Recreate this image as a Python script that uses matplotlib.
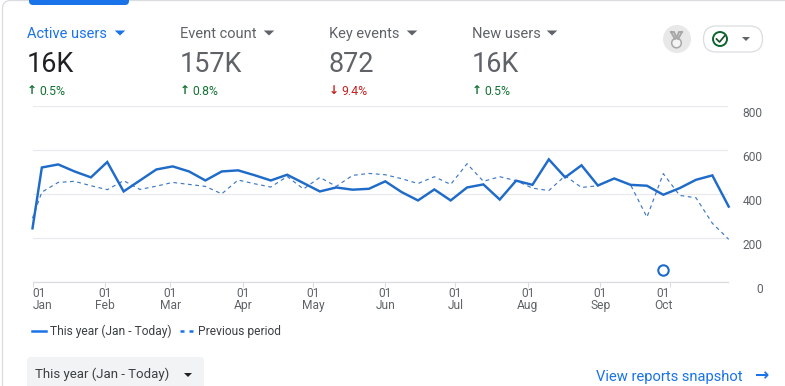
import matplotlib
matplotlib.use("Agg")
import matplotlib.pyplot as plt
from matplotlib.lines import Line2D
from matplotlib.patches import Circle, FancyBboxPatch, Polygon
from matplotlib.transforms import ScaledTranslation

plt.rcParams['font.family'] = ['Roboto', 'DejaVu Sans']

W, H = 785, 386

# weekly points, x is days since 01 Jan
days = [0, 4, 11, 18, 25, 32, 39, 46, 53, 60, 67, 74, 81, 88, 95, 102, 109, 116, 123, 130, 137, 144,
        151, 158, 165, 172, 179, 186, 193, 200, 207, 214, 221, 228, 235, 242, 249, 256, 263, 270,
        277, 284, 291, 298]
this_year = [243, 520, 534, 502, 475, 545, 411, 461, 511, 525, 502, 461, 502, 507, 485, 461, 487, 449,
             411, 429, 419, 423, 457, 408, 370, 420, 370, 429, 443, 374, 460, 441, 557, 475, 530, 438,
             470, 441, 437, 396, 426, 464, 484, 342]
previous = [289, 408, 452, 457, 437, 419, 460, 420, 435, 452, 443, 434, 400, 463, 446, 431, 479, 422,
            475, 434, 484, 493, 487, 469, 447, 478, 443, 537, 457, 478, 460, 426, 415, 482, 429, 437,
            470, 441, 294, 492, 393, 382, 266, 193]

month_days = [0, 31, 59, 90, 120, 151, 181, 212, 243, 273]
month_labels = ['Jan', 'Feb', 'Mar', 'Apr', 'May', 'Jun', 'Jul', 'Aug', 'Sep', 'Oct']
y_ticks = [0, 200, 400, 600, 800]

note_day = [270]
note_value = [53]

metric_names = ['Active users', 'Event count', 'Key events', 'New users']
metric_values = ['16K', '157K', '872', '16K']
metric_changes = ['0.5%', '0.8%', '9.4%', '0.5%']
metric_up = [True, True, False, True]
metric_x = [27, 180, 329, 472]
metric_tri = [120, 269, 412, 552]

BLUE = '#1a73e8'
LINE = '#1f6bc9'
GREY = '#5f6368'
INK = '#202124'
GREEN = '#137333'
RED = '#c5221f'


def px(size):
    return size * 72 / 100


fig = plt.figure(figsize=(W / 100, H / 100), dpi=100, facecolor='white')

# page furniture, drawn in pixel coordinates
ui = fig.add_axes([0, 0, 1, 1])
ui.set_xlim(0, W)
ui.set_ylim(H, 0)
ui.axis('off')


def triangle(x, y, w, h, color):
    ui.add_patch(Polygon([(x - w / 2, y - h / 2), (x + w / 2, y - h / 2), (x, y + h / 2)], color=color, lw=0))


ui.add_patch(FancyBboxPatch((2.5, 0.5), 900, 500, boxstyle='round,pad=0,rounding_size=8', fc='white',
                            ec='#dadce0', lw=0.9))
ui.add_patch(FancyBboxPatch((29, -6), 100, 11, boxstyle='round,pad=0,rounding_size=4', fc=BLUE, ec='none'))

for i, name in enumerate(metric_names):
    x = metric_x[i]
    active = i == 0
    ui.text(x, 34, name, color=BLUE if active else GREY, fontsize=px(14.6), va='center', ha='left')
    triangle(metric_tri[i], 33, 10.5, 5, BLUE if active else GREY)
    ui.text(x, 64, metric_values[i], color=INK if active else GREY, fontsize=px(27), va='center', ha='left')
    col = GREEN if metric_up[i] else RED
    ui.text(x + 5, 91, '↑' if metric_up[i] else '↓', color=col, fontsize=px(12), fontweight='bold',
            family='DejaVu Sans', va='center', ha='center')
    ui.text(x + 12, 91.5, metric_changes[i], color=col, fontsize=px(12.3), va='center', ha='left')

# medal badge
ui.add_patch(Circle((677, 39), 14, fc='#e8e8e8', ec='none'))
ui.add_patch(Circle((676.5, 43), 4.8, fc='#f4f4f4', ec='#a8a8a8', lw=1.1))
ui.plot([671, 674, 676.5, 679, 682], [32, 32, 38, 32, 32], color='#a8a8a8', lw=1.4)
ui.plot([671, 675], [32, 39], color='#a8a8a8', lw=1.4)
ui.plot([682, 678], [32, 39], color='#a8a8a8', lw=1.4)
# status button
ui.add_patch(FancyBboxPatch((703.5, 26), 59, 26, boxstyle='round,pad=0,rounding_size=13', fc='white',
                            ec='#dadce0', lw=0.9))
ui.add_patch(Circle((720, 39), 7, fc='none', ec='#0d652d', lw=1.4))
ui.plot([716.5, 719.5, 724.5], [39, 42, 36], color='#174d2c', lw=1.2)
triangle(746, 39, 8, 4, GREY)

ui.add_patch(FancyBboxPatch((27, 357), 177, 40, boxstyle='round,pad=0,rounding_size=4', fc='#f1f3f4', ec='none'))
ui.text(35, 374.5, 'This year (Jan - Today)', color='#3c4043', fontsize=px(13.3), va='center', ha='left')
triangle(188, 375, 8, 4, INK)
ui.text(596, 376.5, 'View reports snapshot', color=BLUE, fontsize=px(14.8), va='center', ha='left')
ui.text(762, 375, '→', color=BLUE, fontsize=px(17), fontweight='bold', family='DejaVu Sans',
        va='center', ha='center')

# the chart itself
ax = fig.add_axes([32.5 / W, 1 - 281.7 / H, (728 - 32.5) / W, (281.7 - 106) / H])
ax.patch.set_alpha(0)
ax.set_xlim(0, 297.7)
ax.set_ylim(0, 800)
for side in ['top', 'left', 'right']:
    ax.spines[side].set_visible(False)
ax.spines['bottom'].set_color('#dadce0')
ax.spines['bottom'].set_linewidth(0.9)

ax.plot(days, previous, color='#3f79c4', lw=0.85, dashes=(3.2, 3), zorder=3, clip_on=False)
ax.plot(days, this_year, color=LINE, lw=1.75, zorder=4, clip_on=False, solid_joinstyle='miter')
ax.plot(note_day, note_value, 'o', ms=7.5, mfc='white', mec=LINE, mew=1.5, zorder=5)

ax.set_yticks(y_ticks)
ax.yaxis.tick_right()
ax.grid(axis='y', color='#e8eaed', lw=0.9)
ax.set_axisbelow(True)
ax.tick_params(axis='y', length=0, pad=25, labelsize=px(12), labelcolor=GREY)
ax.set_xticks(month_days)
ax.set_xticklabels(['01\n' + m for m in month_labels], ha='center', linespacing=0.85, multialignment='center')
ax.tick_params(axis='x', length=3.5, width=0.8, color='#dadce0', pad=0.5, labelsize=px(12), labelcolor=GREY)

for lab in ax.get_yticklabels():
    lab.set_ha('right')
    lab.set_va('top')
    lab.set_transform(lab.get_transform() + ScaledTranslation(0, -1 / 100, fig.dpi_scale_trans))

x_labs = ax.get_xticklabels()
x_labs[0].set_ha('left')
x_labs[0].set_multialignment('left')
x_labs[-1].set_transform(x_labs[-1].get_transform() + ScaledTranslation(-7 / 100, 0, fig.dpi_scale_trans))

handles = [Line2D([], [], color=BLUE, lw=1.8),
           Line2D([], [], color=BLUE, lw=1.8, dashes=(1.6, 2))]
fig.legend(handles, ['This year (Jan - Today)', 'Previous period'], loc='center left',
           bbox_to_anchor=(27 / W, 1 - 331 / H), ncol=2, frameon=False, fontsize=px(12),
           handlelength=1.2, handletextpad=0.3, columnspacing=0.7, labelcolor='#3c4043',
           borderpad=0, borderaxespad=0.4)

fig.savefig('out.png', dpi=100, facecolor='white')
